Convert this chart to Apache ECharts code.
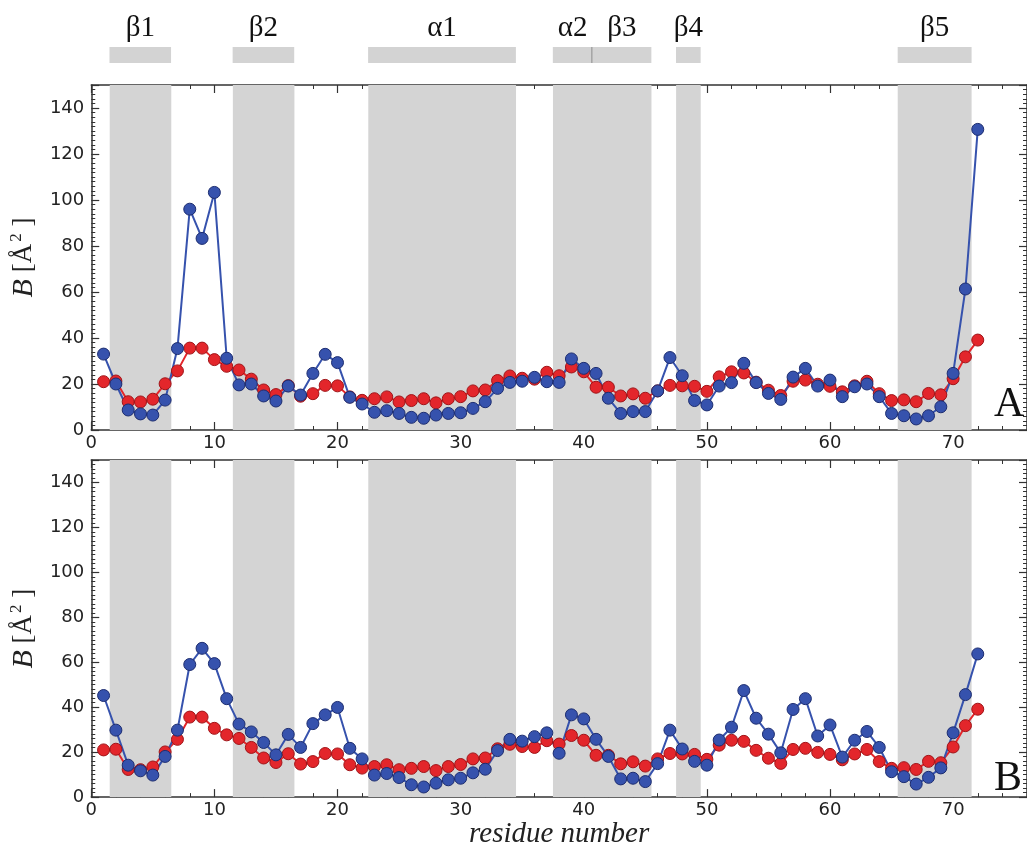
<!DOCTYPE html>
<html>
<head>
<meta charset="utf-8">
<script src="https://cdn.jsdelivr.net/npm/echarts@6/dist/echarts.min.js"></script>
<style>
  html, body { margin: 0; padding: 0; background: #fff; }
  #chart { width: 1027px; height: 850px; }
</style>
</head>
<body>
<div id="chart"></div>
<script>
const residues = [1, 2, 3, 4, 5, 6, 7, 8, 9, 10, 11, 12, 13, 14, 15, 16, 17, 18, 19, 20,
  21, 22, 23, 24, 25, 26, 27, 28, 29, 30, 31, 32, 33, 34, 35, 36, 37, 38, 39, 40,
  41, 42, 43, 44, 45, 46, 47, 48, 49, 50, 51, 52, 53, 54, 55, 56, 57, 58, 59, 60,
  61, 62, 63, 64, 65, 66, 67, 68, 69, 70, 71, 72];

// red curve (same in both panels)
const refB = [21, 21.3, 12.3, 12.2, 13.4, 20.1, 25.7, 35.6, 35.6, 30.6,
  27.7, 26.1, 22.1, 17.4, 15.4, 19.3, 14.7, 15.8, 19.4, 19.2,
  14.4, 12.9, 13.6, 14.4, 12.2, 12.8, 13.6, 11.8, 13.6, 14.5,
  17, 17.4, 21.5, 23.5, 22.5, 22.1, 25.1, 23.6, 27.4, 25.3,
  18.6, 18.6, 14.8, 15.7, 13.8, 17, 19.4, 19.2, 19, 16.8,
  23.1, 25.3, 24.8, 20.8, 17.3, 15, 21.2, 21.7, 19.9, 19,
  16.6, 19.2, 21.2, 15.8, 12.8, 13.1, 12.3, 15.9, 15.3, 22.3,
  31.8, 39.1];

// blue curve, panel A
const blueA = [33, 20, 8.7, 7, 6.5, 13, 35.4, 96, 83.3, 103.3,
  31.2, 19.6, 20, 14.8, 12.6, 19.1, 15.2, 24.6, 32.9, 29.3,
  14.2, 11.3, 7.7, 8.4, 7.2, 5.5, 5.1, 6.5, 7.2, 7.5,
  9.4, 12.3, 18.1, 20.7, 21.2, 22.9, 21, 20.7, 30.9, 26.8,
  24.6, 13.8, 7.2, 8, 8, 17, 31.5, 23.6, 12.8, 10.9,
  19.1, 20.6, 29, 20.6, 15.9, 13.3, 23, 26.8, 19.1, 21.7,
  14.5, 18.8, 20, 14.5, 7.2, 6.2, 4.8, 6.2, 10.1, 24.6,
  61.3, 130.7];

// blue curve, panel B
const blueB = [45.2, 29.8, 14.2, 11.7, 9.8, 18.1, 29.8, 59, 66.2, 59.4,
  43.8, 32.5, 29, 24.3, 18.8, 27.9, 22.1, 32.7, 36.6, 39.9,
  21.7, 17, 9.8, 10.5, 8.7, 5.5, 4.5, 6.2, 7.7, 8.4,
  10.8, 12.4, 20.7, 25.7, 24.9, 26.9, 28.6, 19.5, 36.6, 34.8,
  25.7, 18.1, 8.1, 8.4, 6.9, 14.9, 29.8, 21.4, 15.9, 14.2,
  25.4, 31.1, 47.4, 35.1, 28, 19.7, 39, 43.8, 27.2, 32.1,
  17.8, 25.3, 29.2, 22.1, 11.3, 9.1, 5.8, 8.8, 13, 28.6,
  45.6, 63.7];

// secondary structure elements
const segNames = ["β1", "β2", "α1", "α2", "β3", "β4", "β5"];
const segStart = [1.5, 11.5, 22.5, 37.5, 40.7, 47.5, 65.5];
const segEnd = [6.5, 16.5, 34.5, 40.7, 45.5, 49.5, 71.5];

const xTicks = { min: 0, max: 76, interval: 10 };
const yTicks = { min: 0, max: 150, interval: 20 };

const SERIF = '"Liberation Serif", "DejaVu Serif", serif';
const SANS = '"DejaVu Sans", sans-serif';
const AXIS_COLOR = "#333";
const RED = "#e3262b";
const BLUE = "#3652ad";

const gridLeft = 91;
const gridWidth = 942;

const chart = echarts.init(document.getElementById("chart"));

function xAxisFor(gridIndex, position, showLabels, name) {
  return {
    type: "value",
    gridIndex,
    position,
    min: xTicks.min,
    max: xTicks.max,
    interval: xTicks.interval,
    axisLine: { show: true, onZero: false, lineStyle: { color: AXIS_COLOR, width: 1.5 } },
    axisTick: { show: true, inside: true, length: 8, lineStyle: { color: AXIS_COLOR, width: 1.2 } },
    minorTick: { show: true, splitNumber: 5, length: 4, lineStyle: { color: AXIS_COLOR, width: 1 } },
    splitLine: { show: false },
    axisLabel: {
      show: showLabels,
      showMaxLabel: false,
      margin: 4,
      fontSize: 18,
      fontFamily: SANS,
      color: "#222",
    },
    name: name || "",
    nameLocation: "middle",
    nameGap: 22,
    nameTextStyle: {
      fontFamily: SERIF,
      fontStyle: "italic",
      fontSize: 29,
      color: "#222",
    },
  };
}

function yAxisFor(gridIndex, position, showLabels) {
  return {
    type: "value",
    gridIndex,
    position,
    min: yTicks.min,
    max: yTicks.max,
    interval: yTicks.interval,
    axisLine: { show: true, onZero: false, lineStyle: { color: AXIS_COLOR, width: 1.5 } },
    axisTick: { show: true, inside: true, length: 8, lineStyle: { color: AXIS_COLOR, width: 1.2 } },
    minorTick: { show: true, splitNumber: 10, length: 4, lineStyle: { color: AXIS_COLOR, width: 1 } },
    splitLine: { show: false },
    axisLabel: {
      show: showLabels,
      showMaxLabel: false,
      margin: 7,
      fontSize: 18,
      fontFamily: SANS,
      color: "#222",
    },
    name: showLabels ? "{i|B} [Å{s|2} ]" : "",
    nameLocation: "middle",
    nameGap: 28,
    nameTextStyle: {
      fontFamily: SERIF,
      fontSize: 27,
      color: "#222",
      rich: {
        i: { fontFamily: SERIF, fontStyle: "italic", fontSize: 30, color: "#222" },
        s: { fontFamily: SERIF, fontSize: 17, color: "#222", padding: [0, 0, 15, 2] },
      },
    },
  };
}

// shaded bands in the plots: touching segments are merged into one band
const bandAreas = [];
segStart.forEach((s, i) => {
  const last = bandAreas[bandAreas.length - 1];
  if (last && last[1].xAxis === s) {
    last[1].xAxis = segEnd[i];
  } else {
    bandAreas.push([{ xAxis: s }, { xAxis: segEnd[i] }]);
  }
});

function lineSeries(name, values, axisIndex, color, border, withBands) {
  const s = {
    name,
    type: "line",
    xAxisIndex: axisIndex,
    yAxisIndex: axisIndex,
    data: residues.map((r, i) => [r, values[i]]),
    symbol: "circle",
    symbolSize: 12,
    lineStyle: { color, width: 2 },
    itemStyle: { color, borderColor: border, borderWidth: 1 },
    z: 3,
  };
  if (withBands) {
    s.markArea = {
      silent: true,
      itemStyle: { color: "#d4d4d4" },
      data: bandAreas,
    };
  }
  return s;
}

chart.setOption({
  animation: false,
  backgroundColor: "#fff",
  grid: [
    { left: gridLeft, top: 85, width: gridWidth, height: 345 },
    { left: gridLeft, top: 460, width: gridWidth, height: 346 },
    { left: gridLeft, top: 47, width: gridWidth, height: 16 },
  ],
  xAxis: [
    xAxisFor(0, "bottom", true),
    xAxisFor(0, "top", false),
    xAxisFor(1, "bottom", true, "residue number"),
    xAxisFor(1, "top", false),
    { type: "value", gridIndex: 2, min: xTicks.min, max: xTicks.max, show: false },
  ],
  yAxis: [
    yAxisFor(0, "left", true),
    yAxisFor(0, "right", false),
    yAxisFor(1, "left", true),
    yAxisFor(1, "right", false),
    { type: "value", gridIndex: 2, min: 0, max: 1, show: false },
  ],
  series: [
    lineSeries("ref A", refB, 0, RED, "#a01418", true),
    lineSeries("blue A", blueA, 0, BLUE, "#1d2d70", false),
    lineSeries("ref B", refB, 2, RED, "#a01418", true),
    lineSeries("blue B", blueB, 2, BLUE, "#1d2d70", false),
    {
      type: "custom",
      xAxisIndex: 4,
      yAxisIndex: 4,
      data: segStart.map((s, i) => [s, segEnd[i]]),
      encode: { x: [0, 1] },
      renderItem: (params, api) => {
        const a = api.coord([api.value(0), 1]);
        const b = api.coord([api.value(1), 0]);
        const children = [
          {
            type: "rect",
            shape: { x: a[0], y: a[1], width: b[0] - a[0], height: b[1] - a[1] },
            style: { fill: "#d3d3d3" },
          },
          {
            type: "text",
            style: {
              text: segNames[params.dataIndex],
              x: (a[0] + b[0]) / 2,
              y: a[1] - 4,
              align: "center",
              verticalAlign: "bottom",
              font: '29px "Liberation Serif"',
              fill: "#111",
            },
          },
        ];
        if (segStart.indexOf(api.value(1)) >= 0) {
          children.push({
            type: "line",
            shape: { x1: b[0], y1: a[1], x2: b[0], y2: b[1] },
            style: { stroke: "#555", lineWidth: 1.2 },
          });
        }
        return { type: "group", children };
      },
    },
  ],
  graphic: [
    {
      type: "text",
      left: 994,
      top: 384,
      style: { text: "A", font: '42px "Liberation Serif"', fill: "#111" },
    },
    {
      type: "text",
      left: 994,
      top: 758,
      style: { text: "B", font: '42px "Liberation Serif"', fill: "#111" },
    },
  ],
});
</script>
</body>
</html>
